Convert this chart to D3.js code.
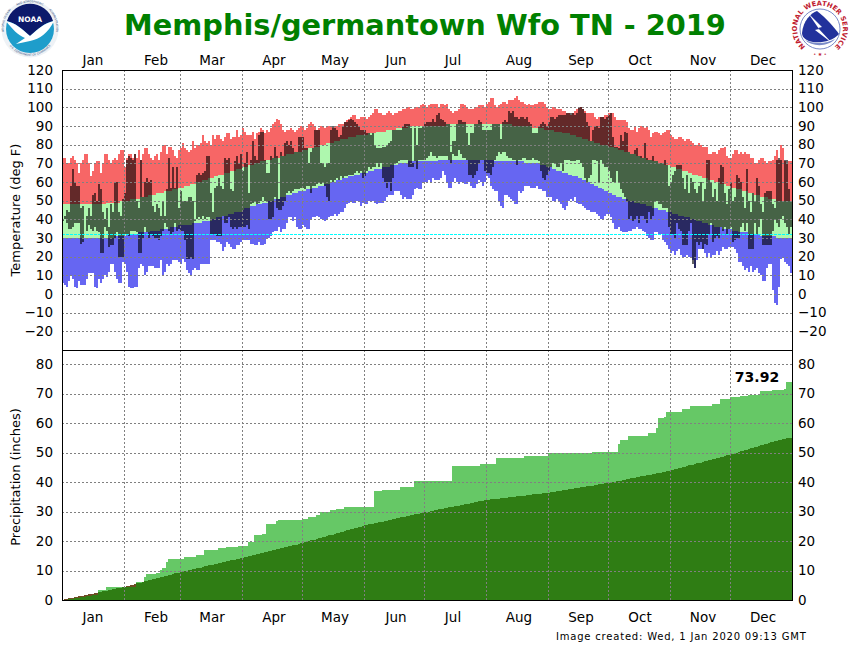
<!DOCTYPE html>
<html lang="en">
<head>
<meta charset="UTF-8">
<script src="https://d3js.org/d3.v7.min.js"></script>
<style>
  html, body { margin: 0; padding: 0; background: #fff; }
  text { font-family: "DejaVu Sans", sans-serif; }
</style>
</head>
<body>
<div id="plot"></div>
<script>
const months = ["Jan","Feb","Mar","Apr","May","Jun","Jul","Aug","Sep","Oct","Nov","Dec"];
const monthStart = [0,31,59,90,120,151,181,212,243,273,304,334,365];
const monthLabelDay = [15.5,47,75,106,136.5,167,195.5,228.5,259.5,289,320.5,350.5];
const tempTicks = [120,110,100,90,80,70,60,50,40,30,20,10,0,-10,-20];
const precipTicks = [80,70,60,50,40,30,20,10,0];

const recordHigh = [
73,73,70,70,73,74,72,70,65,70, 72,75,75,70,63,66,70,71,71,65,
70,75,75,72,70,72,73,72,75,77, 77,68,73,75,75,73,75,73,77,72,
75,78,78,75,73,72,74,75,72,76, 80,80,75,79,79,77,74,73,77,78,
81,78,77,76,77,82,78,80,80,81, 85,82,81,82,80,85,83,85,85,83,
82,84,86,86,83,84,84,88,84,85, 89,87,85,85,85,87,83,86,87,89,
88,86,88,87,89,91,92,94,93,91, 88,87,88,88,89,88,87,88,89,90,
90,88,89,91,92,91,90,88,89,90, 90,89,90,90,90,89,90,90,91,91,
91,92,93,94,95,96,96,94,94,95, 95,95,94,95,96,97,99,99,97,97,
96,96,97,98,97,96,97,97,98,98, 99,99,100,100,99,99,100,100,100,101,
102,101,100,101,102,102,102,102,100,102, 102,101,102,99,98,97,98,98,99,102,
102,101,100,99,99,99,100,100,101,101, 101,100,102,103,105,105,101,100,101,102,
103,103,102,104,104,104,105,106,104,103, 103,102,101,102,101,101,102,102,103,103,
103,102,100,99,99,100,100,99,99,99, 98,98,97,97,96,97,98,99,100,100,
99,98,97,97,97,97,95,94,95,95, 95,96,96,97,97,97,95,93,93,93,
93,93,92,89,88,88,90,87,89,90, 90,89,90,88,84,86,87,87,86,85,
86,87,88,88,85,84,83,83,84,84, 83,82,83,83,82,81,80,80,81,80,
79,79,79,75,75,76,76,75,77,78, 78,79,74,73,73,75,77,77,75,76,
75,76,75,75,73,73,70,70,72,73, 73,71,70,71,71,72,74,77,72,80,
78,71,70,71,71];

const recordLow = [
6,5,4,7,10,8,4,3,7,5, 5,5,8,11,11,11,4,3,8,6,
8,10,9,12,16,16,12,8,6,6, 17,16,12,4,3,3,4,4,14,16,
15,10,12,15,15,15,14,14,14,18, 10,12,16,15,16,18,18,18,17,16,
19,17,13,11,10,13,14,13,13,16, 16,16,16,16,29,29,29,28,28,27,
23,25,28,27,25,24,24,26,26,28, 29,29,29,29,27,27,26,26,28,26,
26,27,30,30,31,33,34,34,36,33, 35,35,38,41,41,39,41,36,35,35,
37,36,35,35,40,41,41,42,41,40, 40,39,40,41,42,42,43,42,43,44,
44,46,48,49,50,49,49,50,50,47, 49,48,48,50,50,50,49,48,49,49,
49,50,52,53,53,53,55,55,55,53, 51,52,51,51,51,53,56,57,56,56,
60,60,60,61,60,62,61,61,61,62, 66,64,60,57,57,60,62,60,59,60,
60,59,59,60,58,57,57,59,61,60, 58,60,63,62,58,56,55,55,50,47,
46,53,53,52,51,50,48,48,55,54, 55,58,58,58,57,57,57,58,56,56,
55,55,52,52,52,50,50,51,50,48, 46,45,47,50,51,50,52,49,48,48,
47,46,45,45,44,44,44,43,42,40, 40,42,43,43,41,38,35,35,36,34,
33,33,33,34,34,35,35,36,35,35, 34,33,31,30,29,29,33,33,32,32,
29,28,26,24,22,23,21,23,24,21, 20,20,21,20,20,18,14,18,24,24,
24,22,20,22,20,21,21,23,21,23, 25,24,24,25,25,25,24,22,17,17,
15,13,14,12,15,12,13,14,11,10, 7,7,14,16,16,2,-5,-6,4,19,
20,17,16,15,11];

const normalHigh = [
48,48,48,48,48,48,48,48,48,48, 48,48,48,48,48,48,48,48,48,48,
48,48,49,49,49,49,49,49,49,50, 50,50,50,50,51,51,51,51,51,52,
52,52,52,53,53,53,53,54,54,54, 54,55,55,55,55,56,56,56,57,57,
57,58,58,58,59,59,59,60,60,60, 61,61,61,62,62,62,63,63,64,64,
64,65,65,65,66,66,66,67,67,67, 68,68,68,69,69,69,70,70,70,71,
71,71,72,72,72,73,73,73,73,74, 74,74,75,75,75,75,76,76,76,76,
77,77,77,78,78,78,79,79,79,80, 80,80,81,81,81,81,82,82,82,83,
83,83,83,84,84,84,84,85,85,85, 85,85,85,86,86,86,86,87,87,87,
87,87,88,88,88,88,88,89,89,89, 89,89,89,90,90,90,90,90,90,90,
90,90,90,90,90,90,90,90,90,90, 90,90,91,91,91,91,91,91,91,91,
91,91,91,91,91,91,91,91,91,91, 91,91,91,91,91,91,91,91,91,91,
91,91,91,91,91,90,90,90,90,90, 90,90,90,90,90,89,89,89,89,89,
89,88,88,88,88,88,87,87,87,87, 86,86,86,86,85,85,85,84,84,84,
83,83,83,82,82,82,81,81,81,80, 80,80,80,79,79,79,78,78,77,77,
77,76,76,76,75,75,75,74,74,73, 73,73,72,72,72,71,71,71,70,70,
70,69,69,69,68,68,68,67,67,67, 66,66,66,65,65,64,64,64,63,63,
62,62,62,61,61,61,60,60,60,59, 59,59,58,58,57,57,57,56,56,56,
55,55,55,54,54,54,53,53,53,52, 52,52,52,51,51,51,51,50,50,50,
50,50,50,50,50];

const normalLow = [
30,30,30,30,30,30,30,30,30,30, 30,30,30,30,30,30,30,30,30,30,
30,30,30,30,30,30,31,31,31,31, 31,31,32,32,32,32,32,32,33,33,
33,33,33,33,34,34,34,34,34,35, 35,35,35,35,36,36,36,36,37,37,
37,37,37,37,37,38,38,38,38,38, 39,39,39,39,39,40,40,41,41,41,
42,42,42,43,43,43,44,44,44,44, 45,46,46,46,47,47,47,48,48,48,
49,49,49,50,50,50,51,51,51,52, 52,52,53,53,53,54,54,54,55,55,
55,55,56,56,56,57,57,57,58,58, 58,59,59,59,60,60,60,61,61,61,
62,62,62,63,63,63,64,64,64,65, 65,65,65,66,66,66,67,67,67,67,
68,68,68,68,69,69,69,69,70,70, 70,70,70,71,71,71,71,71,71,71,
71,71,71,71,71,71,71,71,72,72, 72,72,72,72,72,72,72,72,72,72,
72,72,72,72,72,72,72,72,72,72, 72,72,72,72,72,72,71,71,71,71,
71,71,71,71,71,71,71,71,71,71, 71,70,70,70,70,70,70,70,70,69,
69,69,68,68,68,67,67,66,66,66, 65,65,65,64,64,63,63,63,62,62,
61,61,60,60,59,59,58,58,57,57, 56,55,55,54,54,53,53,52,52,52,
51,51,51,50,50,50,49,49,49,48, 48,48,47,47,47,46,46,46,45,45,
45,45,44,44,44,43,43,43,42,42, 42,41,41,41,40,40,40,39,39,39,
38,38,38,37,37,37,36,36,36,36, 35,35,35,35,35,34,34,34,33,33,
33,33,33,32,32,32,32,32,32,31, 31,31,31,31,31,31,31,30,30,30,
30,30,30,30,30];

const obsHigh = [
40,42,45,44,58,67,60,58,58,46, 47,36,42,46,42,53,54,50,59,56,
44,40,46,36,48,44,60,60,44,42, 51,54,72,74,73,72,75,50,46,72,
52,60,62,60,61,47,44,48,46,42, 50,42,56,73,57,68,57,68,46,55,
50,50,50,52,52,50,40,64,65,64, 65,66,74,74,54,44,57,58,62,58,
56,73,72,73,56,55,71,74,70,75, 66,70,76,54,72,82,74,72,85,87,
87,72,65,65,74,73,79,74,51,76, 74,81,82,80,82,78,76,76,84,84,
84,78,78,70,76,78,88,88,88,70, 70,68,70,70,88,90,89,88,84,85,
90,92,92,93,94,93,92,91,90,88, 88,88,86,86,85,86,80,78,78,78,
79,79,80,81,82,88,88,88,88,88, 90,91,91,91,89,70,89,80,89,89,
90,91,92,92,92,94,92,96,97,94, 93,92,91,91,76,82,82,91,93,93,
92,92,86,80,86,86,91,91,93,92, 88,88,88,88,88,91,91,91,91,83,
92,93,92,98,97,98,95,95,94,95, 95,94,95,92,91,86,86,86,90,91,
92,91,90,92,95,95,94,95,96,96, 96,96,97,97,97,97,96,97,100,100,
99,97,92,90,82,88,90,90,89,95, 95,94,95,96,97,84,79,79,78,85,
82,87,86,76,75,75,77,78,74,74, 73,81,73,72,72,74,71,71,70,70,
70,72,69,58,60,64,66,69,69,69, 62,56,64,54,62,60,56,54,58,60,
50,56,72,72,60,52,56,50,62,69, 68,54,48,56,60,50,52,64,62,60,
52,46,67,50,44,54,50,62,58,48, 44,54,55,55,55,48,46,72,73,72,
50,72,72,56,50];

const obsLow = [
39,40,38,35,35,36,38,38,38,27, 28,36,34,37,35,34,36,34,33,22,
22,36,34,25,26,26,30,33,20,20, 20,32,32,31,34,34,34,33,22,22,
30,36,33,30,32,31,30,30,29,31, 34,38,36,34,32,33,38,34,35,34,
34,29,19,19,20,19,39,40,41,40, 42,40,41,41,32,32,32,31,31,31,
42,38,38,41,36,35,36,35,36,36, 36,36,37,35,48,49,50,48,49,50,
52,50,50,40,40,41,52,46,45,45, 47,50,54,55,54,55,56,56,56,57,
57,56,58,58,54,58,58,59,60,59, 60,58,52,50,61,60,61,62,61,63,
62,63,63,64,64,64,65,66,65,66, 62,63,66,68,67,68,68,70,68,70,
62,60,57,60,55,62,70,70,71,72, 72,72,72,68,68,68,71,67,72,72,
72,72,73,74,76,74,74,73,74,74, 74,74,74,72,70,75,74,74,77,75,
73,73,72,64,64,62,64,66,70,72, 72,66,65,65,64,68,72,74,76,75,
76,76,74,73,73,72,72,69,72,72, 73,73,72,72,72,73,72,72,71,66,
62,61,64,66,68,70,70,68,68,70, 66,72,72,72,71,71,71,72,72,70,
68,62,60,62,64,72,72,71,60,72, 70,68,68,66,62,60,60,66,60,56,
54,52,50,40,42,39,40,42,38,42, 42,40,38,44,40,42,50,50,48,48,
46,46,46,36,32,32,30,38,35,34, 26,26,26,34,38,16,14,28,26,28,
24,27,26,32,38,28,30,31,30,36, 34,36,32,35,36,28,29,30,30,36,
38,34,38,24,24,24,38,32,36,40, 26,26,26,26,26,34,40,38,36,40,
42,38,36,32,36];

const normalPrecip = [
0.1,0.3,0.4,0.6,0.7,0.8,1.0,1.1,1.3,1.4,1.5,1.7,1.8,1.9,2.1,2.2,2.4,2.5,2.6,2.8,2.9,3.1,3.2,3.3,3.5,3.6,3.7,3.9,4.0,4.2,4.3,
4.5,4.7,4.9,5.0,5.2,5.4,5.6,5.8,5.9,6.1,6.3,6.5,6.7,6.8,7.0,7.2,7.4,7.6,7.7,7.9,8.1,8.3,8.5,8.6,8.8,9.0,9.2,9.3,
9.5,9.6,9.8,10.0,10.1,10.3,10.4,10.6,10.7,10.9,11.0,11.2,11.4,11.5,11.7,11.8,12.0,12.1,12.3,12.4,12.6,12.8,12.9,13.1,13.2,13.4,13.5,13.7,13.8,14.0,14.2,
14.3,14.5,14.7,14.8,15.0,15.2,15.3,15.5,15.7,15.8,16.0,16.2,16.3,16.5,16.7,16.8,17.0,17.2,17.3,17.5,17.7,17.8,18.0,18.2,18.3,18.5,18.7,18.8,19.0,19.2,
19.4,19.6,19.8,20.0,20.2,20.4,20.5,20.7,20.9,21.1,21.3,21.5,21.7,21.9,22.1,22.2,22.4,22.6,22.8,23.0,23.2,23.4,23.6,23.7,23.9,24.1,24.3,24.5,24.7,24.9,25.1,
25.3,25.4,25.6,25.7,25.9,26.0,26.2,26.3,26.5,26.6,26.8,26.9,27.1,27.2,27.4,27.5,27.7,27.8,28.0,28.1,28.3,28.4,28.6,28.7,28.9,29.0,29.2,29.3,29.5,29.6,
29.8,29.9,30.0,30.2,30.3,30.4,30.6,30.7,30.8,31.0,31.1,31.2,31.4,31.5,31.6,31.8,31.9,32.0,32.2,32.3,32.4,32.6,32.7,32.8,33.0,33.1,33.2,33.4,33.5,33.6,33.8,
33.9,34.0,34.1,34.1,34.2,34.3,34.4,34.5,34.6,34.6,34.7,34.8,34.9,35.0,35.0,35.1,35.2,35.3,35.4,35.4,35.5,35.6,35.7,35.8,35.8,35.9,36.0,36.1,36.2,36.2,36.3,
36.4,36.5,36.6,36.7,36.8,37.0,37.1,37.2,37.3,37.4,37.5,37.6,37.7,37.8,38.0,38.1,38.2,38.3,38.4,38.5,38.6,38.7,38.8,39.0,39.1,39.2,39.3,39.4,39.5,39.6,
39.7,39.9,40.0,40.1,40.3,40.4,40.5,40.7,40.8,40.9,41.1,41.2,41.3,41.5,41.6,41.7,41.9,42.0,42.1,42.3,42.4,42.5,42.7,42.8,42.9,43.1,43.2,43.3,43.5,43.6,43.8,
44.0,44.1,44.3,44.5,44.7,44.8,45.0,45.2,45.4,45.6,45.7,45.9,46.1,46.3,46.5,46.6,46.8,47.0,47.2,47.4,47.5,47.7,47.9,48.1,48.3,48.4,48.6,48.8,49.0,49.2,
49.4,49.6,49.8,50.0,50.2,50.4,50.6,50.8,51.0,51.2,51.4,51.6,51.8,52.0,52.2,52.4,52.6,52.8,53.0,53.2,53.4,53.6,53.8,54.0,54.2,54.3,54.5,54.6,54.8,54.9,55.0];

// observed total only changes on days it rained: day of year (from 0) and new total
const rainDay = [0,3,6,9,12,15,18,22,37,41,42,47,49,50,52,53,61,67,71,78,82,88,93,96,100,102,107,108,120,123,127,129,134,137,141,156,160,169,176,195,209,217,231,243,265,278,279,283,293,297,298,301,302,310,314,325,329,334,339,343,349,355,361,362];
const rainTotal = [0,0.2,0.6,0.9,1.3,1.7,3.4,4.3,6.1,7.9,8.8,9.3,10.2,10.7,12.8,13.9,14.5,15.4,17.1,17.6,18.0,18.3,19.8,21.9,22.4,25.8,26.7,27.1,27.3,28.1,28.9,30.0,30.5,30.8,31.4,36.9,37.2,38.3,40.3,45.4,46.0,48.1,48.8,49.7,50.2,52.9,54.2,55.6,56.6,58.3,61.7,62.1,63.8,64.6,65.7,66.4,68.2,68.8,69.0,69.4,70.7,71.2,71.5,73.92];

const width = 850, height = 650;
const left = 62, right = 792, tTop = 70, tBottom = 350, pBottom = 600;

const days = d3.range(365);
const obsPrecip = days.map(i => rainTotal[d3.bisectRight(rainDay, i) - 1]);

const x = d3.scaleLinear().domain([0, 365]).range([left, right]);
const yT = d3.scaleLinear().domain([-30, 120]).range([tBottom, tTop]);
const yP = d3.scaleLinear().domain([0, 84.75]).range([pBottom, tBottom]);

const svg = d3.select("#plot").append("svg")
    .attr("width", width)
    .attr("height", height)
    .style("display", "block");

// one 2px column per day, top and bottom come from the accessors
function columns(name, color, top, bottom, yScale, opacity) {
  svg.append("g")
      .attr("class", name)
      .attr("fill", color)
      .attr("fill-opacity", opacity === undefined ? 1 : opacity)
      .attr("shape-rendering", "crispEdges")
    .selectAll("rect")
    .data(days)
    .join("rect")
      .attr("x", d => x(d))
      .attr("width", d => x(d + 1) - x(d))
      .attr("y", d => yScale(top(d)))
      .attr("height", d => Math.max(0, yScale(bottom(d)) - yScale(top(d))));
}

columns("record-high", "#f76666", d => recordHigh[d], d => normalHigh[d], yT);
columns("normal", "#aef7ae", d => normalHigh[d], d => normalLow[d], yT);
columns("record-low", "#6666f2", d => normalLow[d], d => recordLow[d], yT);
columns("observed", "#000", d => obsHigh[d], d => obsLow[d], yT, 0.6);

columns("normal-precip", "#6e4c24", d => normalPrecip[d], () => 0, yP);
columns("obs-precip", "#66c866", d => obsPrecip[d], () => 0, yP);
columns("common-precip", "#2f7d14", d => Math.min(obsPrecip[d], normalPrecip[d]), () => 0, yP);

// dotted grid sits over the columns
const grid = svg.append("g")
    .attr("stroke", "#808080")
    .attr("stroke-dasharray", "2,2")
    .attr("shape-rendering", "crispEdges");
grid.selectAll(".h1").data(tempTicks.filter(d => d !== 120)).join("line")
    .attr("x1", left).attr("x2", right)
    .attr("y1", d => Math.round(yT(d)) + 0.5).attr("y2", d => Math.round(yT(d)) + 0.5);
grid.selectAll(".h2").data(precipTicks.filter(d => d !== 0)).join("line")
    .attr("x1", left).attr("x2", right)
    .attr("y1", d => Math.round(yP(d)) + 0.5).attr("y2", d => Math.round(yP(d)) + 0.5);
grid.selectAll(".v").data(monthStart.slice(1, 12)).join("line")
    .attr("x1", d => x(d) + 0.5).attr("x2", d => x(d) + 0.5)
    .attr("y1", tTop).attr("y2", pBottom);

// freezing line
svg.append("line")
    .attr("x1", left).attr("x2", right)
    .attr("y1", Math.round(yT(32)) + 0.5).attr("y2", Math.round(yT(32)) + 0.5)
    .attr("stroke", "#00ffff")
    .attr("stroke-dasharray", "3,1")
    .attr("shape-rendering", "crispEdges");

// frame
const frame = svg.append("g").attr("stroke", "#000").attr("fill", "none").attr("shape-rendering", "crispEdges");
frame.append("rect").attr("x", left + 0.5).attr("y", tTop + 0.5).attr("width", right - left).attr("height", pBottom - tTop);
frame.append("line").attr("x1", left).attr("x2", right).attr("y1", tBottom + 0.5).attr("y2", tBottom + 0.5);

// axes, the labels only
function labels(axis, tx) {
  const g = svg.append("g").attr("transform", `translate(${tx},0)`).call(axis);
  g.select(".domain").remove();
  g.selectAll("line").remove();
  g.selectAll("text").attr("fill", "#000").style("font-size", "13.5px").style("font-family", '"DejaVu Sans", sans-serif');
}
labels(d3.axisLeft(yT).tickValues(tempTicks).tickSize(0).tickPadding(0), 53);
labels(d3.axisLeft(yP).tickValues(precipTicks).tickSize(0).tickPadding(0), 53);
labels(d3.axisRight(yT).tickValues(tempTicks).tickSize(0).tickPadding(0), 798);
labels(d3.axisRight(yP).tickValues(precipTicks).tickSize(0).tickPadding(0), 798);

[60, 617].forEach(ty => {
  svg.append("g").selectAll("text").data(months).join("text")
      .attr("x", (m, i) => x(monthLabelDay[i]))
      .attr("y", ty)
      .attr("dy", "0.35em")
      .attr("text-anchor", "middle")
      .attr("font-size", 13.5)
      .text(m => m);
});

svg.append("text")
    .attr("transform", "translate(20,210) rotate(-90)")
    .attr("text-anchor", "middle").attr("font-size", 13)
    .text("Temperature (deg F)");
svg.append("text")
    .attr("transform", "translate(20,477) rotate(-90)")
    .attr("text-anchor", "middle").attr("font-size", 13)
    .text("Precipitation (inches)");

svg.append("text")
    .attr("x", 425).attr("y", 35)
    .attr("text-anchor", "middle")
    .attr("font-size", 28.8).attr("font-weight", "bold")
    .attr("fill", "#008000")
    .text("Memphis/germantown Wfo TN - 2019");

svg.append("text")
    .attr("x", 757).attr("y", 382)
    .attr("text-anchor", "middle")
    .attr("font-size", 14).attr("font-weight", "bold")
    .text("73.92");

svg.append("text")
    .attr("x", 556).attr("y", 640)
    .attr("font-size", 10)
    .attr("letter-spacing", "0.8")
    .text("Image created: Wed, 1 Jan 2020 09:13 GMT");

// logos
const defs = svg.append("defs");
defs.append("path").attr("id", "noaaLeft").attr("d", "M-26,3A26.5,26.5 0 0,1 -19,-19");
defs.append("path").attr("id", "noaaTop").attr("d", "M-17,-20.5A26.5,26.5 0 0,1 17,-20.5");
defs.append("path").attr("id", "noaaRight").attr("d", "M19,-19A26.5,26.5 0 0,1 26,3");
defs.append("path").attr("id", "noaaLow").attr("d", "M-25,8A26,26 0 0,0 25,8");
defs.append("path").attr("id", "nwsRing").attr("d", "M-15,17A23,23 0 1,1 15,17");

const noaa = svg.append("g").attr("transform", "translate(30,29)");
noaa.append("circle").attr("r", 28.5).attr("fill", "#eef2f6");
noaa.append("circle").attr("r", 24).attr("fill", "#1e9dcb");
noaa.append("path").attr("d", "M-23,-8A24,24 0 0,1 23,-8C14,-6 8,0 0,7C-8,0 -14,-6 -23,-8Z").attr("fill", "#0c1a6b");
noaa.append("path").attr("d", "M-24,-8C-14,-6 -8,0 0,7C8,0 14,-6 24,-8C18,4 10,10 0,12L-14,15L-5,9C-12,6 -18,0 -24,-8Z").attr("fill", "#fff");
noaa.append("text").attr("y", -7).attr("text-anchor", "middle").attr("fill", "#fff")
    .attr("font-size", 7.5).attr("font-weight", "bold").text("NOAA");
[["noaaLeft", "NATIONAL OCEANIC"], ["noaaTop", "AND ATMOSPHERIC"], ["noaaRight", "ADMINISTRATION"], ["noaaLow", "U.S. DEPARTMENT OF COMMERCE"]].forEach(r => {
  noaa.append("text").attr("font-size", 2.8).attr("fill", "#33507f")
    .append("textPath").attr("href", "#" + r[0]).attr("startOffset", "50%").attr("text-anchor", "middle")
      .text(r[1]);
});

const nws = svg.append("g").attr("transform", "translate(820,29)");
nws.append("circle").attr("r", 28).attr("fill", "#fff");
nws.append("circle").attr("r", 20).attr("fill", "#fff").attr("stroke", "#7a8bc8");
nws.append("path").attr("d", "M-18,4C-17,-8 -9,-16 -3,-18C6,-11 14,-2 19,5C13,12 2,14 -7,13C-13,12 -18,9 -18,4Z").attr("fill", "#22329c");
nws.append("path").attr("d", "M-12,-16L2,-2L-2,-1L12,14L-5,1L-1,0Z").attr("fill", "#fff");
nws.append("path").attr("d", "M-15,11C-6,15 6,15 15,10C8,18 -8,18 -15,11Z").attr("fill", "#7a8bc8");
nws.append("text").attr("font-size", 6.8).attr("font-weight", "bold").attr("fill", "#c02030")
  .append("textPath").attr("href", "#nwsRing").attr("startOffset", "50%").attr("text-anchor", "middle")
    .text("NATIONAL WEATHER SERVICE");
nws.append("text").attr("y", 27).attr("text-anchor", "middle").attr("font-size", 5).attr("fill", "#c02030").text("• ★ •");
</script>
</body>
</html>
